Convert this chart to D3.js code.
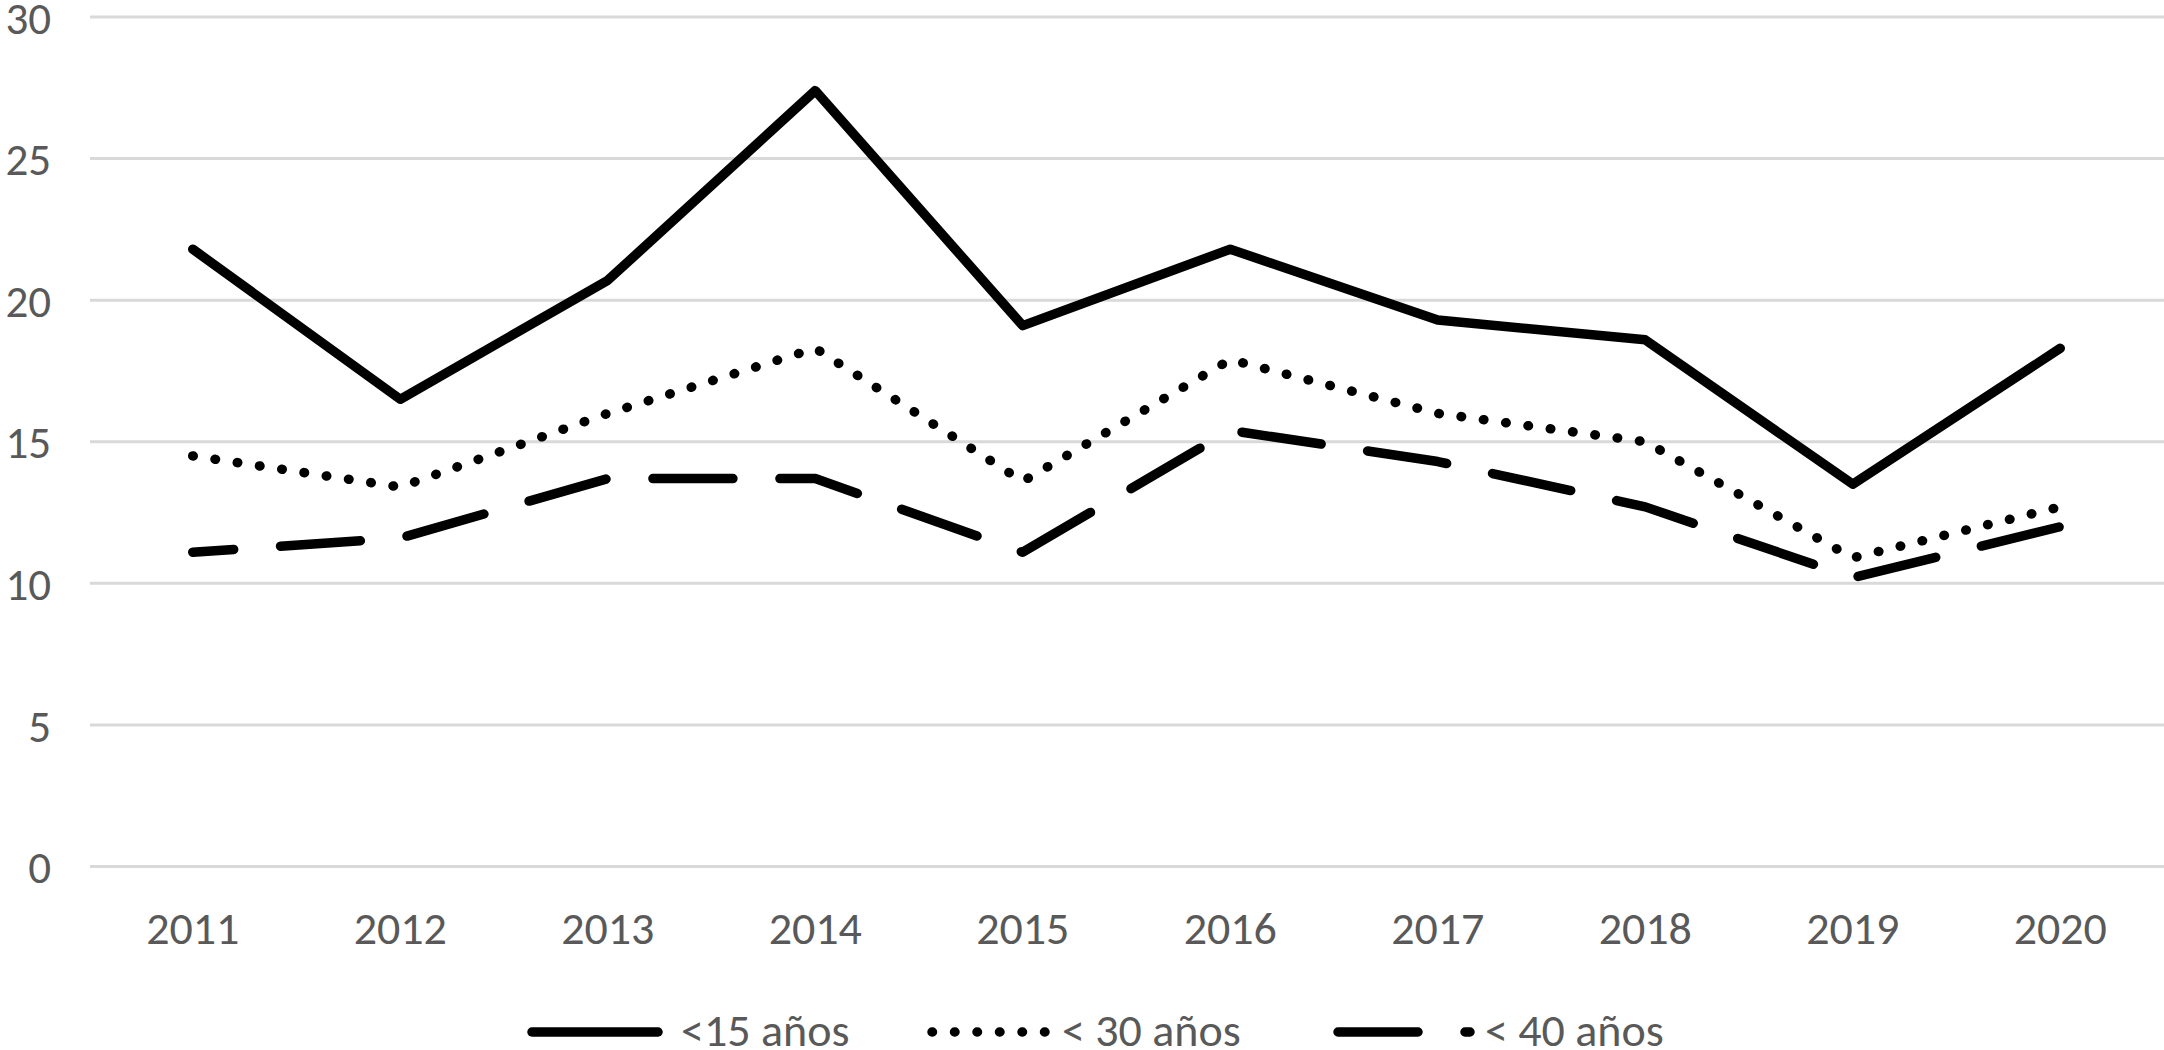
<!DOCTYPE html>
<html>
<head>
<meta charset="utf-8">
<script src="https://cdn.jsdelivr.net/npm/d3@7"></script>
<style>
  html, body { margin: 0; padding: 0; background: #ffffff; }
  svg { display: block; }
  text { font-family: Calibri, Carlito, Lato, "Open Sans", sans-serif; fill: #595959; }
</style>
</head>
<body>
<svg id="chart" width="2164" height="1050"></svg>
<script>
const years = ["2011","2012","2013","2014","2015","2016","2017","2018","2019","2020"];
const yTicks = [0, 5, 10, 15, 20, 25, 30];
const seriesNames = ["<15 años", "< 30 años", "< 40 años"];
const under15 = [21.8, 16.5, 20.7, 27.4, 19.1, 21.8, 19.3, 18.6, 13.5, 18.3];
const under30 = [14.5, 13.4, 16.0, 18.3, 13.6, 17.9, 16.0, 15.0, 10.9, 12.7];
const under40 = [11.1, 11.6, 13.7, 13.7, 11.1, 15.4, 14.3, 12.7, 10.2, 12.0];

const W = 2164, H = 1050;
const FS = 46;
const svg = d3.select("#chart");

const x = d3.scaleBand().domain(years).range([89, 2164]);
const y = d3.scaleLinear().domain([0, 30]).range([866.5, 17]);
const cx = d => x(d) + x.bandwidth() / 2;

// gridlines
svg.append("g").selectAll("line").data(yTicks).join("line")
  .attr("x1", 90).attr("x2", W)
  .attr("y1", d => y(d)).attr("y2", d => y(d))
  .attr("stroke", "#d9d9d9").attr("stroke-width", 3);

// y axis labels
const yAxis = d3.axisLeft(y).tickValues(yTicks).tickSize(0).tickPadding(0);
const gy = svg.append("g").attr("transform", "translate(51,0)").call(yAxis);
gy.select(".domain").remove();
gy.selectAll("text").attr("font-size", FS - 1).attr("dy", "0.36em")
  .style("font-family", "Calibri, Carlito, Lato, sans-serif").attr("fill", "#595959");

// x axis labels
const xAxis = d3.axisBottom(x).tickSize(0).tickPadding(0);
const gx = svg.append("g").attr("transform", "translate(0,944)").call(xAxis);
gx.select(".domain").remove();
gx.selectAll("text").attr("font-size", FS).attr("dy", 0)
  .style("font-family", "Calibri, Carlito, Lato, sans-serif").attr("fill", "#595959");

const SW = 9.5;
const styles = [
  { dash: null, offset: 0 },
  { dash: "0.5 22", offset: 0 },
  { dash: "80 47", offset: 39 }
];
const dataSets = [under15, under30, under40];

const line = d3.line().x((d, i) => cx(years[i])).y(d => y(d));

dataSets.forEach((vals, k) => {
  const p = svg.append("path")
    .datum(vals)
    .attr("d", line)
    .attr("fill", "none")
    .attr("stroke", "#000")
    .attr("stroke-width", SW)
    .attr("stroke-linecap", "round")
    .attr("stroke-linejoin", "round");
  if (styles[k].dash) {
    p.attr("stroke-dasharray", styles[k].dash).attr("stroke-dashoffset", styles[k].offset);
  }
});

// legend
const legendItems = [
  { x1: 532, x2: 658, tx: 681 },
  { x1: 932, x2: 1050, tx: 1062 },
  { x1: 1338, x2: 1470, tx: 1485 }
];
const lg = svg.append("g");
legendItems.forEach((it, k) => {
  const l = lg.append("line")
    .attr("x1", it.x1).attr("x2", it.x2)
    .attr("y1", 1032).attr("y2", 1032)
    .attr("stroke", "#000").attr("stroke-width", SW)
    .attr("stroke-linecap", "round");
  if (styles[k].dash) l.attr("stroke-dasharray", styles[k].dash);
  lg.append("text")
    .attr("x", it.tx).attr("y", 1046)
    .attr("font-size", FS)
    .text(seriesNames[k]);
});
</script>
</body>
</html>
